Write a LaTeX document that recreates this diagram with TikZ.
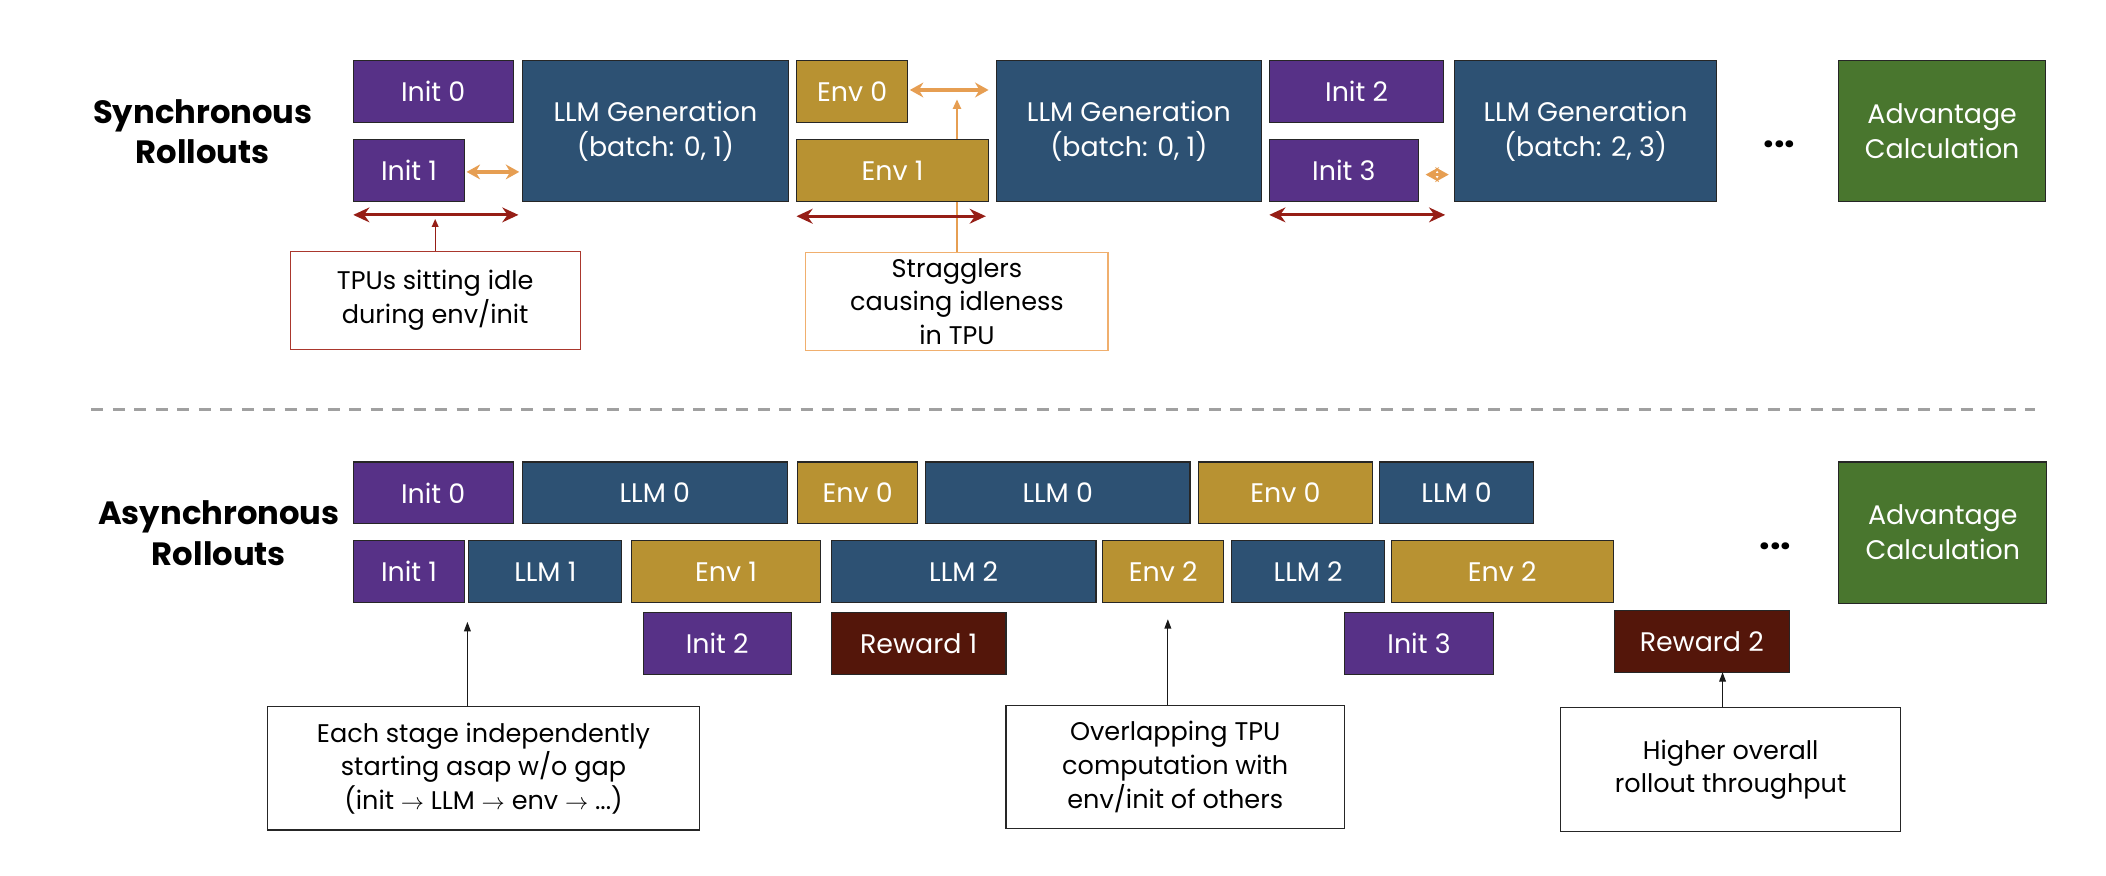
\documentclass[tikz,border=0pt]{standalone}
\usepackage{fontspec}
\setmainfont{Poppins}
\usetikzlibrary{arrows.meta}
\definecolor{cpurple}{RGB}{87,49,135}
\definecolor{cblue}{RGB}{45,81,115}
\definecolor{cgold}{RGB}{184,146,50}
\definecolor{cgreen}{RGB}{73,118,46}
\definecolor{creward}{RGB}{84,22,10}
\definecolor{cred}{RGB}{150,30,22}
\definecolor{credbox}{RGB}{170,55,45}
\definecolor{corange}{RGB}{230,158,82}
\definecolor{corangebox}{RGB}{240,175,110}
\definecolor{cdash}{RGB}{160,160,160}
\tikzset{
  sz/.style 2 args={minimum width=#1pt,minimum height=#2pt},
  bx/.style={draw=black!85,line width=0.8pt,text=white,align=center,inner sep=0pt,
             font=\fontsize{20}{26}\selectfont},
  ann/.style={draw=black!85,line width=0.9pt,align=center,inner sep=0pt,text=black,
             font=\fontsize{19}{25}\selectfont},
  head/.style={align=center,inner sep=0pt,font=\bfseries\fontsize{24}{30}\selectfont},
  dotsnode/.style={anchor=base,inner sep=0pt,font=\bfseries\fontsize{28}{30}\selectfont},
  redarr/.style={draw=cred,line width=2.2pt,{Stealth[length=12pt,width=11pt]}-{Stealth[length=12pt,width=11pt]}},
  redup/.style={draw=cred,line width=1pt,-{Triangle[length=6pt,width=5pt]}},
  oarr/.style={draw=corange,line width=2.6pt,{Stealth[length=10pt,width=11pt]}-{Stealth[length=10pt,width=11pt]}},
  oup/.style={draw=corange,line width=1.3pt,-{Triangle[length=7pt,width=6pt]}},
  barr/.style={draw=black!90,line width=0.9pt,-{Triangle[length=7pt,width=5pt]}},
}
\begin{document}
\begin{tikzpicture}[x=1pt,y=-1pt]
\useasboundingbox[fill=white] (0,0) rectangle (1568,652);

% headings
\node[head] (shead) at (151,98) {Synchronous\\Rollouts};
\node[head] (ahead) at (163,397) {Asynchronous\\Rollouts};

% annotation boxes (sync)
\node[ann,draw=credbox,sz={216}{73}] (tpu) at (324,223.5) {TPUs sitting idle\\during env/init};
\node[ann,draw=corangebox,sz={225}{73}] (strag) at (712.5,224.5) {Stragglers\\causing idleness\\in TPU};

% orange vertical pointer (behind boxes)
\coordinate (ovtip) at (712.5,74);
\draw[oup] (strag.north) -- (ovtip);

% sync boxes
\node[bx,fill=cpurple,sz={119}{46}] (si0) at (322.5,68) {Init 0};
\node[bx,fill=cpurple,sz={83}{46}] (si1) at (304.5,127) {Init 1};
\node[bx,fill=cblue,sz={198}{105}] (sg1) at (488,97.5) {LLM Generation\\(batch: 0, 1)};
\node[bx,fill=cgold,sz={83}{46}] (se0) at (634.5,68) {Env 0};
\node[bx,fill=cgold,sz={143}{46}] (se1) at (664.5,127) {Env 1};
\node[bx,fill=cblue,sz={197}{105}] (sg2) at (840.5,97.5) {LLM Generation\\(batch: 0, 1)};
\node[bx,fill=cpurple,sz={130}{46}] (si2) at (1010,68) {Init 2};
\node[bx,fill=cpurple,sz={111}{46}] (si3) at (1000.5,127) {Init 3};
\node[bx,fill=cblue,sz={195}{105}] (sg3) at (1180.5,97.5) {LLM Generation\\(batch: 2, 3)};
\node[bx,fill=cgreen,sz={154}{105}] (sadv) at (1446,97.5) {Advantage\\Calculation};
\node[dotsnode] (sdots) at (1325,110) {...};

% orange arrows (sync)
\draw[oarr,shorten <=1pt,shorten >=2pt] ([yshift=-1pt]si1.east) -- ([yshift=-1pt]sg1.west |- si1.east);
\coordinate (o2b) at (736,67);
\draw[oarr,shorten <=1pt] ([yshift=1pt]se0.east) -- (o2b);
\draw[oarr,shorten <=5pt,shorten >=4pt] ([yshift=-3pt]si3.east) -- ([yshift=-3pt]sg3.west |- si3.east);

% red idle arrows
\coordinate (r1a) at (263,160);
\coordinate (r1b) at (386,160);
\coordinate (r2a) at (593,161);
\coordinate (r2b) at (734,161);
\coordinate (r3a) at (945,160);
\coordinate (r3b) at (1076,160);
\draw[redarr] (r1a) -- (r1b);
\draw[redarr] (r2a) -- (r2b);
\draw[redarr] (r3a) -- (r3b);
\coordinate (r1m) at (324,163);
\draw[redup] (tpu.north) -- (r1m);

% dashed separator
\coordinate (dl) at (68,305);
\coordinate (dr) at (1515,305);
\draw[cdash,line width=2pt,dash pattern=on 9pt off 7pt] (dl) -- (dr);

% async row A
\node[bx,fill=cpurple,sz={119}{46}] (ai0) at (322.5,367) {Init 0};
\node[bx,fill=cblue,sz={197}{46}] (al0a) at (487.5,367) {LLM 0};
\node[bx,fill=cgold,sz={89}{46}] (ae0a) at (638.5,367) {Env 0};
\node[bx,fill=cblue,sz={197}{46}] (al0b) at (787.5,367) {LLM 0};
\node[bx,fill=cgold,sz={130}{46}] (ae0b) at (957,367) {Env 0};
\node[bx,fill=cblue,sz={115}{46}] (al0c) at (1084.5,367) {LLM 0};
% async row B
\node[bx,fill=cpurple,sz={83}{46}] (ai1) at (304.5,425.5) {Init 1};
\node[bx,fill=cblue,sz={114}{46}] (al1) at (406,425.5) {LLM 1};
\node[bx,fill=cgold,sz={141}{46}] (ae1) at (540.5,425.5) {Env 1};
\node[bx,fill=cblue,sz={197}{46}] (al2a) at (717.5,425.5) {LLM 2};
\node[bx,fill=cgold,sz={90}{46}] (ae2a) at (866,425.5) {Env 2};
\node[bx,fill=cblue,sz={114}{46}] (al2b) at (974,425.5) {LLM 2};
\node[bx,fill=cgold,sz={165}{46}] (ae2b) at (1118.5,425.5) {Env 2};
% async row C
\node[bx,fill=cpurple,sz={110}{46}] (ai2) at (534,479) {Init 2};
\node[bx,fill=creward,sz={130}{46}] (ar1) at (684,479) {Reward 1};
\node[bx,fill=cpurple,sz={111}{46}] (ai3) at (1056.5,479) {Init 3};
\node[bx,fill=creward,sz={130}{46}] (ar2) at (1267,477.5) {Reward 2};
\node[bx,fill=cgreen,sz={155}{105}] (aadv) at (1446.5,396.5) {Advantage\\Calculation};
\node[dotsnode] (adots) at (1322,409) {...};

% async annotations
\node[ann,sz={322}{92}] (each) at (360,572) {Each stage independently\\starting asap w/o gap\\(init $\rightarrow$ LLM $\rightarrow$ env $\rightarrow$ ...)};
\node[ann,sz={252}{92}] (overl) at (875,571) {Overlapping TPU\\computation with\\env/init of others};
\node[ann,sz={253}{92}] (higher) at (1288.5,573) {Higher overall\\rollout throughput};

\coordinate (b1tip) at (348,463);
\coordinate (b2tip) at (869.5,461);
\coordinate (b3tip) at (1282.5,500.5);
\draw[barr] (each.north -| b1tip) -- (b1tip);
\draw[barr] (overl.north -| b2tip) -- (b2tip);
\draw[barr] (higher.north -| b3tip) -- (b3tip);
\end{tikzpicture}
\end{document}
